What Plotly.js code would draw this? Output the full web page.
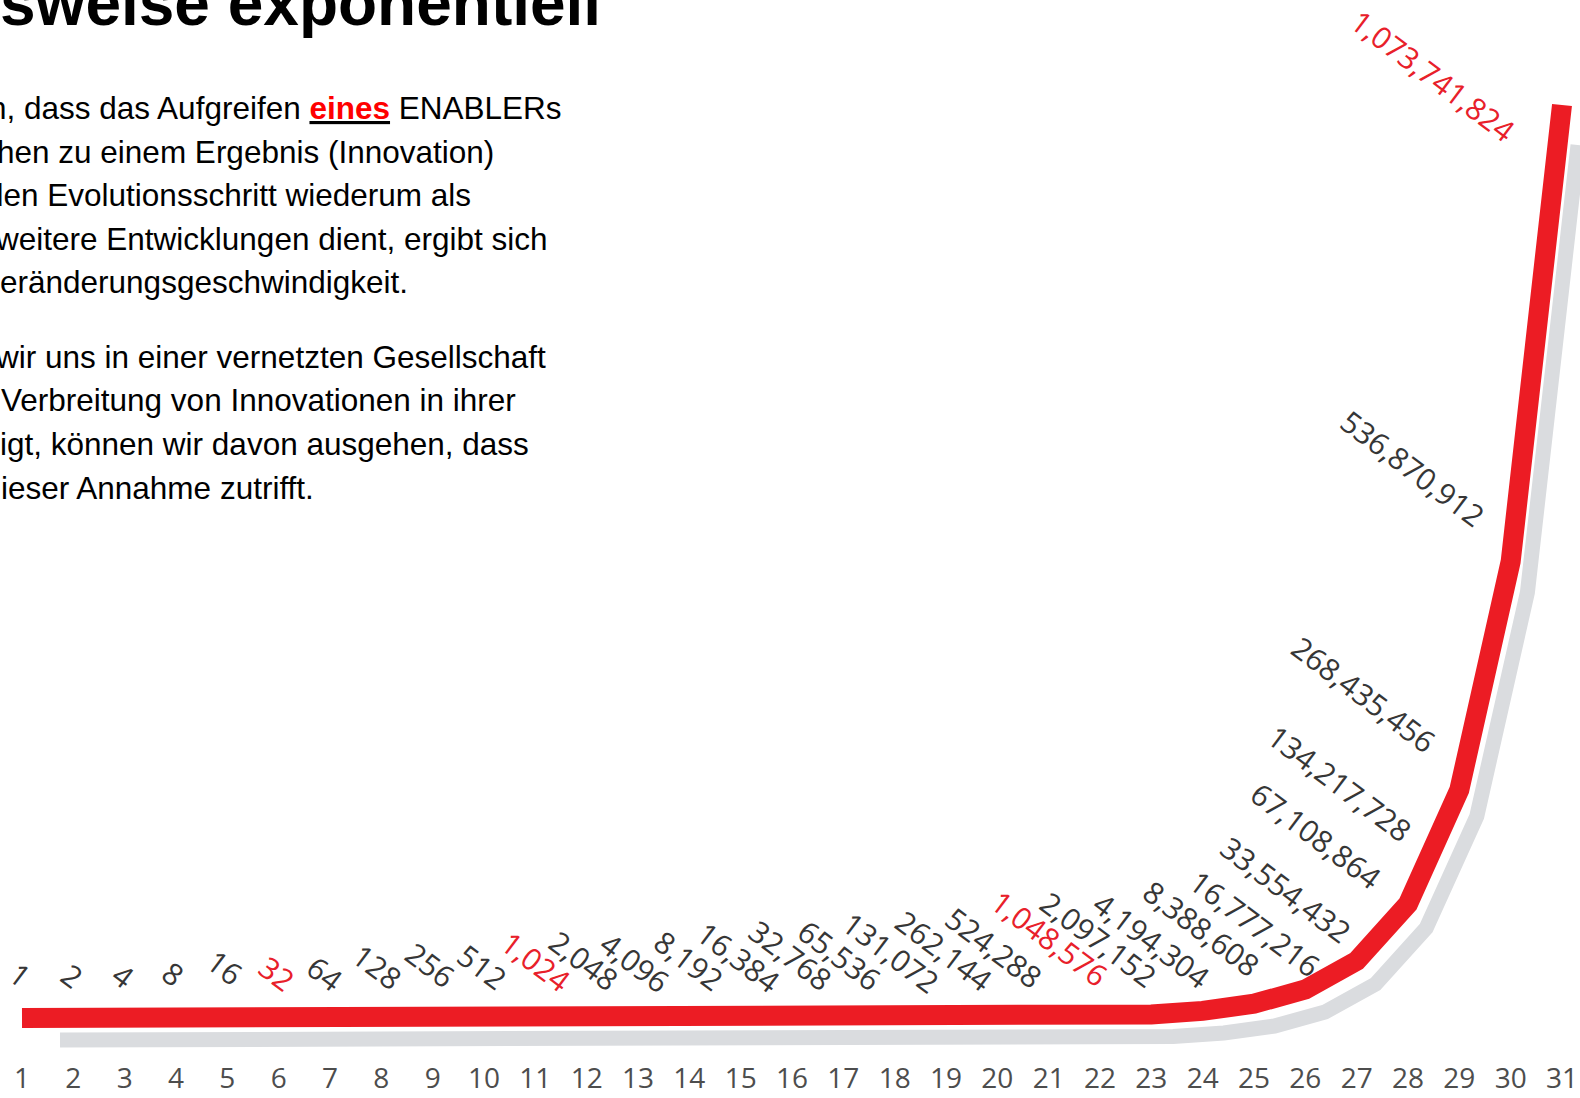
<!DOCTYPE html>
<html><head><meta charset="utf-8">
<script src="https://cdn.plot.ly/plotly-3.0.1.min.js"></script>
<style>html,body{margin:0;padding:0;background:#fff;overflow:hidden;}#chart{width:1580px;height:1098px;}</style>
</head><body><div id="chart"></div>
<script>
// ---- data ----
const steps = [1,2,3,4,5,6,7,8,9,10,11,12,13,14,15,16,17,18,19,20,21,22,23,24,25,26,27,28,29,30,31];
const values = [1,2,4,8,16,32,64,128,256,512,1024,2048,4096,8192,16384,32768,65536,131072,262144,524288,
  1048576,2097152,4194304,8388608,16777216,33554432,67108864,134217728,268435456,536870912,1073741824];
const valueLabels = ['1','2','4','8','16','32','64','128','256','512','1,024','2,048','4,096','8,192','16,384',
  '32,768','65,536','131,072','262,144','524,288','1,048,576','2,097,152','4,194,304','8,388,608','16,777,216',
  '33,554,432','67,108,864','134,217,728','268,435,456','536,870,912','1,073,741,824'];
const highlightedSteps = [6,11,21,31];
const tickLabels = steps.map(String);
const titleText = 'sweise exponentiell';
const paragraphLines = [
  'n, dass das Aufgreifen <b><u><span style="color:#ff0000">eines</span></u></b> ENABLERs',
  'hen zu einem Ergebnis (Innovation)',
  'den Evolutionsschritt wiederum als',
  'weitere Entwicklungen dient, ergibt sich',
  'eränderungsgeschwindigkeit.',
  'wir uns in einer vernetzten Gesellschaft',
  'Verbreitung von Innovationen in ihrer',
  'igt, können wir davon ausgehen, dass',
  'ieser Annahme zutrifft.'
];

// ---- layout helpers (pixel placement) ----
const W = 1580, HF = 1098, B = 39, H = HF - B;
function lin(v1, p1, v2, p2) { const b = (v2 - v1) / (p2 - p1); const a = v1 - b * p1; return p => a + b * p; }
const topVal = values[values.length - 1];
const rx = lin(steps[0], 22, steps[steps.length - 1], 1562), ry = lin(0, 1018, topVal, 105);
const gx = lin(steps[0], 60, steps[steps.length - 1], 1578), gy = lin(0, 1040, topVal, 145);

// label centres in pixels (text placement only)
const labelCenters = [[20,974],[72,975],[123,975],[173,973],[225,967],[277,973],[325,973],[377,966],[430,964],[482,966],
  [536,961],[584,960],[635,962],[689,960],[739,957],[791,955],[840,955],[891,952],[944,950],[994,947],
  [1050,938],[1099,939],[1152,940],[1202,928],[1255,923],[1286,889],[1316,835],[1340,783],[1364,694],[1413,468],[1433,75]];
const paraLeft = [-11,-3,-14,-5,0,-5,1,0,1];
const paraY = [108,151.5,195,238.5,282,357,400.5,444,488];

const px = p => p / W, py = p => 1 - p / H;

const annotations = [];
steps.forEach((s, i) => {
  annotations.push({
    xref: 'paper', yref: 'paper', x: px(labelCenters[i][0]), y: py(labelCenters[i][1]),
    text: valueLabels[i], showarrow: false, textangle: 37, xanchor: 'center', yanchor: 'middle',
    font: {family: 'Open Sans', size: 30, color: highlightedSteps.includes(s) ? '#e8202a' : '#363636'}
  });
});
annotations.push({
  xref: 'paper', yref: 'paper', x: px(0), y: py(3), xanchor: 'left', yanchor: 'middle', showarrow: false,
  borderpad: 0, borderwidth: 0,
  text: '<b>' + titleText + '</b>', font: {family: 'Liberation Sans, Arial, sans-serif', size: 64, color: '#000'}
});
paragraphLines.forEach((t, i) => {
  annotations.push({
    xref: 'paper', yref: 'paper', x: px(paraLeft[i]), y: py(paraY[i]), xanchor: 'left', yanchor: 'middle',
    showarrow: false, borderpad: 0, borderwidth: 0, text: t,
    font: {family: 'Liberation Sans, Arial, sans-serif', size: 31.5, color: '#000'}
  });
});

const shadow = {
  x: steps, y: values, xaxis: 'x', yaxis: 'y', type: 'scatter', mode: 'lines',
  line: {color: '#dadcdf', width: 15}, hoverinfo: 'skip', showlegend: false
};
const curve = {
  x: steps, y: values, xaxis: 'x2', yaxis: 'y2', type: 'scatter', mode: 'lines',
  line: {color: '#ec1c24', width: 20}, hoverinfo: 'skip', showlegend: false
};

const hidden = {showgrid: false, zeroline: false, showline: false, showticklabels: false, ticks: ''};
const layout = {
  width: W, height: HF, margin: {l: 0, r: 0, t: 0, b: B},
  paper_bgcolor: '#ffffff', plot_bgcolor: '#ffffff', showlegend: false,
  xaxis: Object.assign({}, hidden, {range: [gx(0), gx(W)], domain: [0, 1]}),
  yaxis: Object.assign({}, hidden, {range: [gy(H), gy(0)], domain: [0, 1]}),
  xaxis2: {overlaying: 'x', anchor: 'y2', side: 'bottom', range: [rx(0), rx(W)], showgrid: false, zeroline: false,
    showline: false, ticks: '', tickmode: 'array', tickvals: steps, ticktext: tickLabels,
    tickfont: {family: 'Open Sans', size: 28, color: '#4d4d4d'}},
  yaxis2: Object.assign({}, hidden, {overlaying: 'y', range: [ry(H), ry(0)]}),
  annotations: annotations
};
Plotly.newPlot('chart', [shadow, curve], layout, {staticPlot: true, displayModeBar: false});
</script>
</body></html>
